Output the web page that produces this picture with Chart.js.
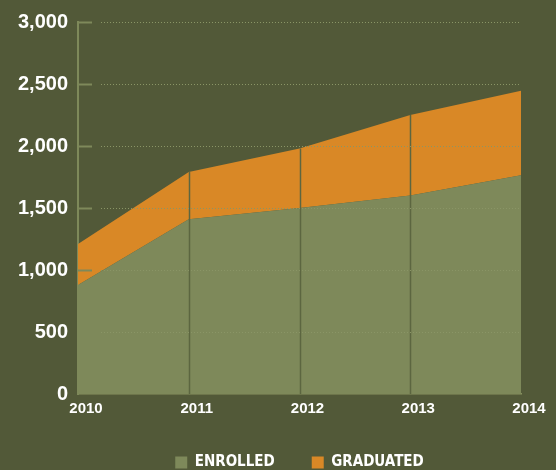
<!DOCTYPE html>
<html>
<head>
<meta charset="utf-8">
<script src="https://cdn.jsdelivr.net/npm/chart.js@4/dist/chart.umd.min.js"></script>
<style>
  html, body { margin: 0; padding: 0; background: #525938; overflow: hidden; }
  #wrap { position: relative; width: 556px; height: 480px; }
</style>
</head>
<body>
<div id="wrap"><canvas id="c"></canvas></div>
<script>
const years = ['2010', '2011', '2012', '2013', '2014'];
const enrolled = [880, 1410, 1500, 1600, 1765];
const graduated = [330, 380, 480, 650, 680];
const seriesNames = ['ENROLLED', 'GRADUATED'];
const yTicks = [0, 500, 1000, 1500, 2000, 2500, 3000];

const GREEN = '#7e895a';
const ORANGE = '#d98826';
const LINE_DARK = '#5c6640';

const overlayPlugin = {
  id: 'overlay',
  afterDatasetsDraw(chart) {
    const { ctx, chartArea, scales: { x, y } } = chart;
    ctx.save();
    ctx.strokeStyle = LINE_DARK;
    ctx.lineWidth = 1.5;
    for (let i = 1; i < years.length - 1; i++) {
      const px = Math.round(x.getPixelForValue(i)) + 0.5;
      const top = y.getPixelForValue(enrolled[i] + graduated[i]);
      const bot = y.getPixelForValue(0);
      ctx.beginPath();
      ctx.moveTo(px, top);
      ctx.lineTo(px, bot);
      ctx.stroke();
    }
    y.ticks.forEach((t, i) => {
      if (t.value === 0) return;
      const py = Math.round(y.getPixelForTick(i)) + 0.5;
      ctx.setLineDash([]);
      ctx.strokeStyle = GREEN;
      ctx.lineWidth = 2;
      ctx.beginPath();
      ctx.moveTo(chartArea.left, py);
      ctx.lineTo(chartArea.left + 14, py);
      ctx.stroke();
      ctx.setLineDash([1, 2]);
      ctx.lineWidth = 1;
      ctx.strokeStyle = '#8a9566';
      ctx.beginPath();
      ctx.moveTo(chartArea.left + 23, py);
      ctx.lineTo(chartArea.right, py);
      ctx.stroke();
    });
    ctx.restore();
  }
};

new Chart(document.getElementById('c'), {
  type: 'line',
  data: {
    labels: years,
    datasets: [
      {
        label: seriesNames[0],
        data: enrolled,
        backgroundColor: GREEN,
        borderColor: GREEN,
        borderWidth: 0,
        pointRadius: 0,
        fill: 'origin',
        tension: 0
      },
      {
        label: seriesNames[1],
        data: graduated,
        backgroundColor: ORANGE,
        borderColor: ORANGE,
        borderWidth: 0,
        pointRadius: 0,
        fill: '-1',
        tension: 0
      }
    ]
  },
  options: {
    responsive: true,
    maintainAspectRatio: false,
    animation: false,
    layout: { padding: { left: 0, right: 35, top: 22, bottom: 0 } },
    plugins: {
      tooltip: { enabled: false },
      legend: {
        position: 'bottom',
        fullSize: false,
        labels: {
          color: '#ffffff',
          boxWidth: 12,
          boxHeight: 12,
          padding: 37,
          font: { family: "'Liberation Sans Narrow', 'DejaVu Sans Condensed', sans-serif", size: 15, weight: 'bold' }
        }
      }
    },
    scales: {
      x: {
        type: 'category',
        offset: false,
        grid: { display: false, drawTicks: false },
        border: { display: true, color: '#87915f', width: 1.5 },
        ticks: {
          color: '#ffffff',
          padding: 6,
          labelOffset: 8,
          maxRotation: 0,
          autoSkip: false,
          font: { family: "'Liberation Sans', Arial, sans-serif", size: 15, weight: 'bold' }
        },
        afterFit(scale) { scale.height = 24; }
      },
      y: {
        stacked: true,
        min: 0,
        max: 3000,
        afterBuildTicks(scale) { scale.ticks = yTicks.map(v => ({ value: v })); },
        grid: { display: false, drawTicks: false },
        border: { display: true, color: GREEN, width: 2 },
        ticks: {
          color: '#ffffff',
          padding: 10,
          font: { family: "'Liberation Sans', Arial, sans-serif", size: 20, weight: 'bold' },
          callback: v => Number(v).toLocaleString('en-US')
        },
        afterFit(scale) { scale.width = 78; }
      }
    }
  },
  plugins: [overlayPlugin]
});
</script>
</body>
</html>
